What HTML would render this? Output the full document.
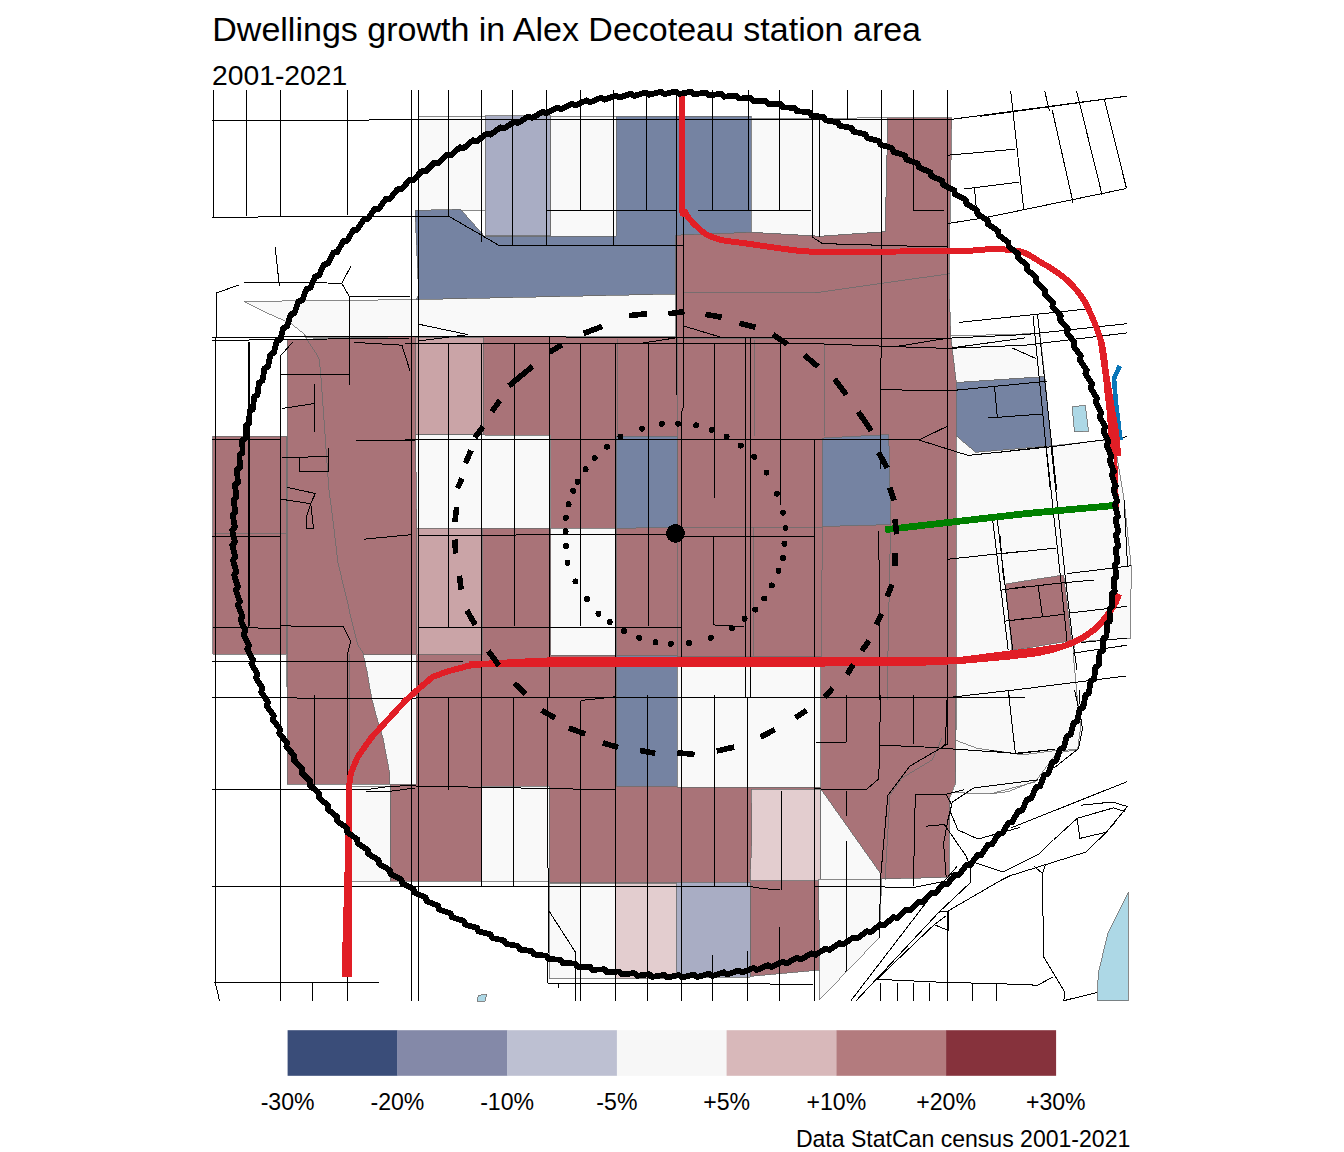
<!DOCTYPE html>
<html><head><meta charset="utf-8"><style>html,body{margin:0;padding:0;background:#fff;}svg{display:block;}</style></head>
<body><svg width="1344" height="1152" viewBox="0 0 1344 1152">
<rect width="1344" height="1152" fill="#fff"/>
<g shape-rendering="crispEdges"><g><polygon points="418.7,116.4 485.2,116 485.2,210.4 418.7,210.4" fill="#F9F9F9" stroke="#6b6b6b" stroke-width="0.8"/><polygon points="485.2,115.6 550.8,115.6 550.8,235.9 485.2,235.9" fill="#A9ADC4" stroke="#6b6b6b" stroke-width="0.8"/><polygon points="550.8,116 616.4,116 616.4,236.3 550.8,236" fill="#F9F9F9" stroke="#6b6b6b" stroke-width="0.8"/><polygon points="415,210.4 460.6,209.3 484.3,236 616.4,236.3 616.4,116 751.3,116 751.3,232.3 675.5,235.2 676,294 416,299.6 418.7,295" fill="#7583A2" stroke="#6b6b6b" stroke-width="0.8"/><polygon points="751.3,118.7 887.9,117.8 885.2,231.7 820,236.3 751.3,232.3" fill="#F9F9F9" stroke="#6b6b6b" stroke-width="0.8"/><polygon points="244.2,301.4 416,299.6 676,294 676,337 306.2,337.5 304.3,334.2 290.7,323.3 268.8,313.8" fill="#F9F9F9" stroke="#6b6b6b" stroke-width="0.8"/><polygon points="212.5,436.3 286,436.3 286,654 212.5,654" fill="#A97378" stroke="#6b6b6b" stroke-width="0.8"/><polygon points="287,339.7 415,336.3 676,337 675.5,235.2 751.3,232.3 820,236.3 885.2,231.7 887.9,117.8 951.7,117.8 949,285 950.8,334.2 956.3,381.6 956.3,705 955.4,782.5 949.9,797 949,877.3 880.6,879 880.6,873.6 820.5,788.6 820.5,970 750,976.4 750,882.5 549,883 549,786 481.6,786 481.6,881 390,881 390,784.3 287,784.3" fill="#A97378" stroke="#6b6b6b" stroke-width="0.8"/><polygon points="415.5,337 483.4,337 483.4,434.5 415.5,434.5" fill="#CAA4A7" stroke="#6b6b6b" stroke-width="0.8"/><polygon points="415.5,434.5 550.8,435.5 550.8,528.3 416.8,528.3" fill="#F9F9F9" stroke="#6b6b6b" stroke-width="0.8"/><polygon points="616.4,436.3 677.4,436.3 677.4,527.4 616.4,528.3" fill="#7583A2" stroke="#6b6b6b" stroke-width="0.8"/><polygon points="822.5,438 888.8,434.5 890.6,524.6 822.3,526.5" fill="#7583A2" stroke="#6b6b6b" stroke-width="0.8"/><polygon points="416.8,528.3 482.5,528.3 482.5,654 416.8,654" fill="#CAA4A7" stroke="#6b6b6b" stroke-width="0.8"/><polygon points="550.8,528.3 616,528.3 616,655 550.8,655" fill="#F9F9F9" stroke="#6b6b6b" stroke-width="0.8"/><polygon points="363.3,654.6 416,654.6 416,784.4 389.7,784.4 389.7,773.3 382.8,737.2 376,715 371.7,698.3 367.2,672.3" fill="#F9F9F9" stroke="#6b6b6b" stroke-width="0.8"/><polygon points="616.4,655.9 677.4,655.9 677.4,786.1 616.4,786.1" fill="#7583A2" stroke="#6b6b6b" stroke-width="0.8"/><polygon points="677.4,656.8 820.6,656.8 820.6,787 677.4,787" fill="#F9F9F9" stroke="#6b6b6b" stroke-width="0.8"/><polygon points="751.3,789 820.5,789 820.5,880.8 750,880.8 752,835" fill="#E3CDCF" stroke="#6b6b6b" stroke-width="0.8"/><polygon points="820.5,788.6 880.6,873.6 880.6,879 820.5,879" fill="#F9F9F9" stroke="#6b6b6b" stroke-width="0.8"/><polygon points="350.8,786 390,786 390,881 350.8,881" fill="#F9F9F9" stroke="#6b6b6b" stroke-width="0.8"/><polygon points="481.6,786 549,786 549,881.8 481.6,881.8" fill="#F9F9F9" stroke="#6b6b6b" stroke-width="0.8"/><polygon points="549,883 615.7,883.1 615.7,978.9 549,978.9" fill="#F9F9F9" stroke="#6b6b6b" stroke-width="0.8"/><polygon points="615.7,883.1 676.3,883.1 676.3,978.9 615.7,978.9" fill="#E3CDCF" stroke="#6b6b6b" stroke-width="0.8"/><polygon points="676.3,882.3 750,882.3 750,977.2 676.3,977.2" fill="#A9ADC4" stroke="#6b6b6b" stroke-width="0.8"/><polygon points="818.6,879 881.7,879 879.3,937.6 819.8,999.5" fill="#F9F9F9" stroke="#6b6b6b" stroke-width="0.8"/><polygon points="950.8,336 1040,333.5 1044.8,376.6 956.3,382.5" fill="#F9F9F9" stroke="#6b6b6b" stroke-width="0.8"/><polygon points="956.3,382.5 1044.8,376.6 1051.2,445.9 975.6,452.3 956.3,435.9" fill="#7583A2" stroke="#6b6b6b" stroke-width="0.8"/><polygon points="956.3,435.9 975.6,452.3 1051.2,445.9 1105.7,440 1116.6,454.6 1124,499.5 1131.2,566.4 1130.6,638 1075.4,642 1073,652 1077.5,700 1080.6,726.5 1077.5,749.6 1056.7,753 1035,782 990,794 951.5,792.5 955.4,782.5 956.3,705" fill="#F9F9F9" stroke="#6b6b6b" stroke-width="0.8"/><polygon points="1005.5,583.9 1063.6,575 1071.6,640.7 1012,650.4" fill="#A97378" stroke="#6b6b6b" stroke-width="0.8"/><polygon points="1072.2,406.7 1085.3,405.4 1088.6,431.3 1074.4,431.8" fill="#ADD8E6" stroke="#6b6b6b" stroke-width="0.8"/><polygon points="1128.1,892.4 1128.1,1000.7 1097.1,1000.7 1098.3,973.3 1107.9,932.9" fill="#ADD8E6" stroke="#6b6b6b" stroke-width="0.8"/><polygon points="478.6,995.2 486.8,994.4 485.1,1001 477,1001" fill="#ADD8E6" stroke="#6b6b6b" stroke-width="0.8"/><polyline points="304.3,334.2 307.1,339.7 318.9,357.9 320.7,372.5 329,490 332.6,517.3 338,563 349,608.5 358,645 363.6,654" fill="none" stroke="#6b6b6b" stroke-width="0.8"/><polyline points="214,533.4 286,533.4" fill="none" stroke="#6b6b6b" stroke-width="0.8"/><polyline points="286,436.3 286,687" fill="none" stroke="#6b6b6b" stroke-width="0.8"/><polyline points="349.4,654 349.4,784.4" fill="none" stroke="#6b6b6b" stroke-width="0.8"/><polyline points="683,292.3 820,292.3" fill="none" stroke="#6b6b6b" stroke-width="0.8"/><polyline points="815,292.8 949.9,273.7" fill="none" stroke="#6b6b6b" stroke-width="0.8"/><polyline points="617.3,339 617.3,436.3" fill="none" stroke="#6b6b6b" stroke-width="0.8"/><polyline points="754,340 754,436.3" fill="none" stroke="#6b6b6b" stroke-width="0.8"/><polyline points="683,338.5 949,338.5" fill="none" stroke="#6b6b6b" stroke-width="0.8"/><polyline points="677.4,338 677.4,655.9" fill="none" stroke="#6b6b6b" stroke-width="0.8"/><polyline points="753,527.4 753,655.9" fill="none" stroke="#6b6b6b" stroke-width="0.8"/><polyline points="680,527.4 822,527.4" fill="none" stroke="#6b6b6b" stroke-width="0.8"/><polyline points="824,343.3 824,436" fill="none" stroke="#6b6b6b" stroke-width="0.8"/><polyline points="890.6,524.6 887,700" fill="none" stroke="#6b6b6b" stroke-width="0.8"/><polyline points="822.3,526.5 821.4,656.8" fill="none" stroke="#6b6b6b" stroke-width="0.8"/><polyline points="955.4,695 955.4,782.5" fill="none" stroke="#6b6b6b" stroke-width="0.8"/><polyline points="955,740 977.5,748.5 1023,754.8 1054.6,750.6 1077.5,749.6" fill="none" stroke="#6b6b6b" stroke-width="0.8"/><polyline points="990,794 1008,791.6 1038.2,779.8" fill="none" stroke="#6b6b6b" stroke-width="0.8"/><polyline points="942,738 932,760 902,778 890,795 885,880" fill="none" stroke="#6b6b6b" stroke-width="0.8"/></g>
<g fill="none" stroke="#000" stroke-width="1"><polyline points="213.2,90 213.2,217"/><polyline points="246.6,90 246.6,216"/><polyline points="280.3,90 280.3,216"/><polyline points="347.5,90 347.5,215"/><polyline points="212.3,120.2 951.7,119.3 1127.2,96.1"/><polyline points="212.3,217.2 448.7,216.2 483.4,236.3 498.9,245.4 683,245.4"/><polyline points="216,293.2 238.7,285"/><polyline points="216,293.2 216,338"/><polyline points="244,282.2 288,282.2 341.7,283.3 350.8,266.4"/><polyline points="341.7,283.3 349,296 349,385.3"/><polyline points="275.2,247.2 279.4,286.4"/><polyline points="349,296 410,296"/><polyline points="411.5,90 411.5,1001"/><polyline points="418.1,90 418.1,1001"/><polyline points="448.4,90 448.4,216.2"/><polyline points="481.6,90 481.6,241.8"/><polyline points="512.5,90 512.5,245.4"/><polyline points="546.5,90 546.5,245"/><polyline points="580.5,90 580.5,211"/><polyline points="613.7,90 613.7,245"/><polyline points="547.2,210.8 675.6,210.8"/><polyline points="697.5,210.8 811.4,210.8"/><polyline points="646.5,90 646.5,211"/><polyline points="676.5,90 676.5,395"/><polyline points="681,415 681,1001"/><polyline points="683,209 683,408 681,415"/><polyline points="712.6,90 712.6,211"/><polyline points="748.5,90 748.5,211"/><polyline points="779.5,90 779.5,211"/><polyline points="812.3,90 812.3,237 822.3,243.6 917,246.3 948,246.3"/><polyline points="819.6,118 819.6,237"/><polyline points="847.8,90 847.8,119.6"/><polyline points="881.5,90 881.5,357 880.3,360 880.3,469"/><polyline points="913.4,90 913.4,210.4 943.5,210.4"/><polyline points="947.5,90 947.5,744.2 942.6,747"/><polyline points="980,116.25 1127.2,96.1"/><polyline points="948,223.5 985.6,217.6 1126.5,188.5"/><polyline points="1010.6,90.6 1023.75,209.3"/><polyline points="1044.6,90.6 1049.4,110.7"/><polyline points="1052.2,110 1073,202.4"/><polyline points="1076.5,90.6 1102.2,195.4"/><polyline points="1104.3,98.9 1126.5,188.5"/><polyline points="948,155.2 1015.4,149.2"/><polyline points="964.5,188.9 1018.9,182.2"/><polyline points="974.5,188 977.2,219"/><polyline points="249.3,342.4 249.3,626"/><polyline points="280.4,356 280.4,1001"/><polyline points="280.4,356 292.5,342.4"/><polyline points="212.3,337.5 415,336"/><polyline points="212.3,340.5 287,339.5 410,338"/><polyline points="354.5,342.4 401.9,345.2 410,370.7"/><polyline points="279.7,374.3 349,374.3"/><polyline points="314.4,384.3 314.4,431.7"/><polyline points="281.6,408.6 314.4,403.5"/><polyline points="356.3,440 415,440"/><polyline points="212,439 280.6,439"/><polyline points="299.8,457.3 328,456.3 328,471.3 299.8,471.3 299.8,457.3"/><polyline points="282,457.6 299.8,457.3"/><polyline points="328,448 328,456.3"/><polyline points="287,487.3 316.2,493.7"/><polyline points="418.7,324.2 467.9,334.6 418.7,341"/><polyline points="405,343 815,343.6"/><polyline points="448.4,343 448.4,627"/><polyline points="514.8,343 514.8,626"/><polyline points="549,337 549,697"/><polyline points="580.4,343 580.4,626"/><polyline points="405,439.6 815,439"/><polyline points="615.5,343 615.5,1001"/><polyline points="648.3,343 648.3,626"/><polyline points="714.3,343.3 714.3,498"/><polyline points="745.8,338 745.8,697"/><polyline points="747.3,697 747.3,886.4"/><polyline points="747.5,951 747.5,1001"/><polyline points="750.4,338 750.4,697"/><polyline points="780.4,343 780.4,505"/><polyline points="814.5,439 814.5,1001"/><polyline points="683,337.9 947.5,338.2 1025,334.6 1127,323.7"/><polyline points="642.8,343 675.6,337.9"/><polyline points="683.8,326 723,337.9"/><polyline points="815,343.7 857,345.2 906,347 947.5,348.4 1025,345.2 1127,332.9"/><polyline points="893.4,347 947.5,338.2"/><polyline points="951.7,347.9 1025,337.9"/><polyline points="1011.9,347.9 1035.7,358.4"/><polyline points="959,322.4 1085,309.2"/><polyline points="880.3,389.3 913.4,390.4 953.5,390.4 1039.4,382 1046.7,381.2"/><polyline points="994.5,386.2 997.4,418.5"/><polyline points="988.2,418 1042.1,414"/><polyline points="815,439 913.4,439 918.9,440 947.2,426.3"/><polyline points="918.9,440 968.1,455.4 1051.2,446.8 1126.9,436.8"/><polyline points="1033,315.5 1050.3,490"/><polyline points="1037.5,314.6 1056.7,490"/><polyline points="405,336.2 683,337.6"/><polyline points="248.4,342.4 248.4,626.7"/><polyline points="212.3,536.5 280.6,536.5"/><polyline points="212.3,627 280.6,628.5"/><polyline points="280.6,625.8 343.5,627 350.8,641.3 347.4,654 347.4,790"/><polyline points="212.3,661.4 463.3,661.4"/><polyline points="212.3,697.8 415,698.3 420,697.2 547.2,697.2"/><polyline points="363.6,539.2 411,534.7"/><polyline points="280.6,499.1 310.7,503.7 315.3,493.6 299.8,490"/><polyline points="310.7,503.7 306.2,517.3 306.2,528.3 313.5,528.3 310.7,503.7"/><polyline points="418.1,535.2 666.5,534.7"/><polyline points="418.1,627 681,627"/><polyline points="713.9,536.5 713.9,624.9 744,627"/><polyline points="683,536.5 814.2,536.5"/><polyline points="547.2,697.8 1025,697.8"/><polyline points="878.8,531 880,700"/><polyline points="947.2,559.3 1025,551"/><polyline points="992.7,520 1008.2,650.4"/><polyline points="997.3,520 1012.8,650.4"/><polyline points="1000,590.3 1025,586.6"/><polyline points="1004.6,621.2 1025,618.5"/><polyline points="946.2,697.8 1025,688.7"/><polyline points="1008.2,690.5 1010,700"/><polyline points="1000,452.2 1046.2,446.7"/><polyline points="1046.2,446 1060.8,580 1067.1,641.6"/><polyline points="1051,446 1065.6,580 1072.5,638.9 1077,670"/><polyline points="1002.4,553.6 1055.9,548.1"/><polyline points="1000,536 1003.6,580"/><polyline points="1066.8,573.7 1130.6,565.8"/><polyline points="1124,499.5 1127.6,566.4"/><polyline points="1010,588.9 1060,583.1 1093.9,580"/><polyline points="1010,620.6 1063.6,614.4"/><polyline points="1038.1,585.8 1042.6,617"/><polyline points="1069.8,613 1127,606.3"/><polyline points="1081.4,642.5 1127,638"/><polyline points="1072.5,653.2 1127,645.2"/><polyline points="1025,688.7 1126,676"/><polyline points="215.5,338 215.5,984 219.6,1001"/><polyline points="314,695 314,786"/><polyline points="212.3,789.8 365.4,789.8 388.3,786.5 405,785.8 615,789.8"/><polyline points="365.4,791 388.3,791.5 415,788"/><polyline points="212.3,886.6 749,886.4 763.9,888.8 780.2,889.6"/><polyline points="214,982.7 378.6,982.7"/><polyline points="312.6,983 312.6,1001"/><polyline points="347.6,977 347.6,1001"/><polyline points="448,697.6 448,790"/><polyline points="481.6,343 481.6,886.4"/><polyline points="513.5,697.2 513.5,886.4"/><polyline points="547.2,697.2 548.1,886.4 549,911 547.3,983"/><polyline points="580.9,700.5 615,696.8"/><polyline points="580.9,700.5 580.9,1001"/><polyline points="549,911 575.2,951.8 576,1001"/><polyline points="547.3,983 573.5,983.5 696.8,983 813,984.6"/><polyline points="558,983 558,988"/><polyline points="647.4,695 647.4,1001"/><polyline points="714.8,695 714.8,886.4"/><polyline points="712.8,955 712.8,1001"/><polyline points="781.3,790.7 781.3,889.6"/><polyline points="779.4,927.3 779.4,1001"/><polyline points="816,742.4 846,742.4"/><polyline points="846,695 846,742.4"/><polyline points="880.6,695 878.8,778.8 866,789.8"/><polyline points="815,788.9 866,789.8"/><polyline points="913.4,695 913.4,744.2"/><polyline points="947.2,695 945.4,744.2 942.6,747"/><polyline points="879.7,745.1 924.4,747 1015.5,753.3 1055.1,749.2"/><polyline points="942.6,747 909.8,766.1 887.9,795.3 880.6,877.3 879.3,937.6"/><polyline points="915.3,794.3 946.2,794.3 963.6,789.8"/><polyline points="915.3,794.3 913.4,886.4"/><polyline points="846.9,790.7 846.9,816.2"/><polyline points="846.9,840.8 846,972.1"/><polyline points="815,886.4 864.2,886.8 914.3,887.3 942.6,881.8"/><polyline points="926.2,826.2 945.3,824.4"/><polyline points="946.2,794.3 951.7,804.8 948,819.5 943.6,843.7 946.2,877.3"/><polyline points="951.7,802.5 973.6,788 1038.2,779.8"/><polyline points="950,811 958,830 978,839 998,833.5 1020,827.4"/><polyline points="944,824 966,856 970.2,866.5 970.2,882.8 939,912.1 856.3,1000.6"/><polyline points="851,1000.6 929.8,897.8 957,866.5"/><polyline points="1008.2,690 1015.4,753.8"/><polyline points="990,750.5 1016,753.8 1055.1,749.2"/><polyline points="1074.6,690 1081.1,720 1082.4,729 1078.5,748.6 1053.8,768.1"/><polyline points="1079,690 1081.1,720"/><polyline points="1010.8,828 1126.7,781.8"/><polyline points="1053.8,839.7 1077.2,818.3 1113.7,807.8 1125.4,811.7"/><polyline points="1077.2,818.3 1079.8,838.4 1104.6,832.6"/><polyline points="1081.1,805.2 1112.4,802 1127.4,806.5 1107.2,831.3 1098.7,840"/><polyline points="939,912.1 948,911 1000,880.8 1010.2,875.7 1086.4,851.9 1098.3,840 1115,823"/><polyline points="877.8,978.5 933.75,925.1 946,916"/><polyline points="974.5,862.6 1003.1,872.1 1038.8,854.3 1053.1,840"/><polyline points="1034,866.2 1042.4,873.3 1046,863.8"/><polyline points="1042.4,873.3 1043.6,956.7 1065,992.4 1063.8,1000.7"/><polyline points="948.8,911.4 948.3,930.5 934,924.5"/><polyline points="947.1,911.4 947.1,1000.7"/><polyline points="876.9,979.3 944.8,982.4 996,983.6 1037.6,985.2 1053.1,976.9"/><polyline points="1063.8,1000.7 1097.1,992.4"/><polyline points="880.5,982.9 880.5,1000.7"/><polyline points="897.1,982.9 897.1,1000.7"/><polyline points="913.1,982.9 913.1,1000.7"/><polyline points="929.3,982.9 929.3,1000.7"/><polyline points="972.1,982.9 972.1,1000.7"/><polyline points="996,982.9 996,1000.7"/></g>
<g><path d="M1119.7,366 L1114,378.5 L1115.8,401.7 L1119.6,432.9 L1120.6,440" fill="none" stroke="#0a76b8" stroke-width="4.6"/><path d="M1117,440 L1116.2,470" fill="none" stroke="#0a76b8" stroke-width="1.2"/><path d="M682,94.5 C682.0,112.6 681.5,183.4 682,203 C682.5,222.6 683.7,209.2 685,212 C686.3,214.8 687.9,217.0 690,219.5 C692.1,222.0 694.7,224.7 697.5,227.2 C700.3,229.7 702.6,232.4 706.6,234.5 C710.6,236.6 714.5,238.5 721.2,240 C727.9,241.5 734.9,241.8 746.7,243.5 C758.6,245.2 780.1,248.6 792.3,250 C804.5,251.4 802.0,251.6 820,251.8 C838.0,252.1 876.5,251.6 900,251.5 C923.5,251.4 946.6,251.5 960.8,251.2 C975.0,250.9 978.5,249.8 985,249.5 C991.5,249.2 993.8,248.8 1000,249.2 C1006.2,249.6 1015.6,249.9 1022.5,252.1 C1029.4,254.3 1035.3,259.0 1041.25,262.5 C1047.2,266.0 1052.7,269.1 1057.9,272.9 C1063.1,276.7 1068.0,280.5 1072.5,285.4 C1077.0,290.3 1081.2,295.5 1085,302.1 C1088.8,308.7 1092.7,318.4 1095.4,325 C1098.1,331.6 1099.8,336.2 1101.3,342 C1102.8,347.8 1103.5,352.1 1104.5,360 C1105.5,367.9 1106.4,381.1 1107.2,389.4 C1108.0,397.7 1108.8,402.4 1109.5,410 C1110.2,417.6 1111.0,427.3 1111.5,435 C1112.0,442.7 1112.3,452.5 1112.5,456" fill="none" stroke="#E11E26" stroke-width="6" stroke-linejoin="round"/><path d="M1101.3,342 C1102.1,347.5 1104.4,364.5 1106,375 C1107.6,385.5 1109.5,395.8 1111,405 C1112.5,414.2 1114.1,421.5 1115.3,430 C1116.5,438.5 1117.5,451.7 1118,456" fill="none" stroke="#E11E26" stroke-width="6.6"/><path d="M1115.6,455 L1117.5,508" fill="none" stroke="#E11E26" stroke-width="3"/><path d="M469,664.5 L480,664 L533,661.1 L556,660.1 L785,660.1 L919,660.5 L960,659.9 L1010,653.5 L1036.8,650.4 L1063.6,646.4 L1081.4,638.4 L1094.8,629.4 L1108.2,615.1 L1116,602 L1119,594" fill="none" stroke="#E11E26" stroke-width="6" stroke-linejoin="round"/><path d="M469,664.5 L480,663.7 L800,663.7 L919,662.8 L960,661 L1010,656.5 L1036.8,653.3 L1054.6,649.3 L1072.5,643.1 L1085.9,635.9 L1099.3,625.2 L1108,614 L1115,602 L1118.5,594" fill="none" stroke="#E11E26" stroke-width="6" stroke-linejoin="round"/><path d="M490,663.6 L468.9,665.7 L448,671.3 L432.8,676.8 L418.9,688.6 L405,701.1 L388.3,719.2 L371.7,737.2 L357.8,756.7 L350.8,773.3 L349.1,786" fill="none" stroke="#E11E26" stroke-width="6" stroke-linejoin="round"/><polygon points="346.4,784 346.4,834.4 345.2,834.4 345.2,872 344,872 344,907 342.9,907 342.9,942 342,942 342,976.7 351.9,976.7 351.9,784" fill="#E11E26"/><path d="M885.2,529.7 L1025,513.7 L1113,505.6" fill="none" stroke="#008000" stroke-width="6.8"/></g>
<g><path d="M1115.8,534.5 L1118.2,546.5 L1115.5,549.5 L1117.6,561.6 L1114.8,564.4 L1116.4,576.6 L1113.5,579.3 L1114.7,591.5 L1111.7,594.2 L1112.5,606.4 L1109.5,608.9 L1109.8,621.2 L1106.7,623.6 L1106.6,635.9 L1103.4,638.2 L1102.9,650.5 L1099.6,652.7 L1098.8,665.0 L1095.4,667.1 L1094.1,679.3 L1090.6,681.2 L1088.9,693.4 L1085.4,695.3 L1083.3,707.4 L1079.7,709.1 L1077.2,721.1 L1073.6,722.7 L1070.6,734.7 L1066.9,736.1 L1063.6,748.0 L1059.9,749.3 L1056.1,761.0 L1052.3,762.3 L1048.2,773.8 L1044.4,774.9 L1039.9,786.4 L1036.0,787.3 L1031.1,798.6 L1027.2,799.4 L1021.9,810.5 L1018.0,811.2 L1012.4,822.1 L1008.4,822.7 L1002.4,833.4 L998.5,833.9 L992.1,844.3 L988.1,844.7 L981.4,854.9 L977.4,855.1 L970.3,865.1 L966.3,865.2 L958.9,875.0 L954.9,874.9 L947.2,884.4 L943.2,884.2 L935.1,893.4 L931.2,893.1 L922.8,902.0 L918.9,901.5 L910.2,910.2 L906.3,909.6 L897.3,918.0 L893.4,917.2 L884.1,925.3 L880.3,924.4 L870.7,932.2 L866.9,931.1 L857.1,938.6 L853.3,937.4 L843.3,944.5 L839.5,943.2 L829.3,950.0 L825.6,948.6 L815.1,955.0 L811.4,953.4 L800.7,959.5 L797.1,957.8 L786.2,963.5 L782.7,961.7 L771.6,967.0 L768.1,965.1 L756.8,970.0 L753.4,968.0 L742.0,972.5 L738.7,970.4 L727.1,974.6 L723.8,972.3 L712.1,976.1 L708.9,973.7 L697.1,977.1 L694.0,974.6 L682.1,977.5 L679.0,975.0 L667.0,977.5 L664.1,974.9 L652.0,977.0 L649.1,974.2 L637.0,975.9 L634.2,973.1 L622.0,974.4 L619.3,971.4 L607.1,972.3 L604.5,969.3 L592.3,969.8 L589.8,966.6 L577.5,966.7 L575.2,963.5 L562.9,963.1 L560.7,959.8 L548.4,959.0 L546.3,955.7 L534.1,954.5 L532.1,951.1 L519.9,949.5 L518.0,946.0 L505.9,943.9 L504.1,940.4 L492.1,938.0 L490.5,934.3 L478.5,931.5 L477.0,927.8 L465.1,924.6 L463.7,920.9 L452.0,917.2 L450.7,913.5 L439.1,909.4 L438.0,905.6 L426.6,901.2 L425.5,897.4 L414.2,892.5 L413.4,888.7 L402.2,883.5 L401.5,879.6 L390.5,874.0 L389.9,870.1 L379.2,864.1 L378.7,860.2 L368.2,853.9 L367.8,849.9 L357.5,843.3 L357.3,839.3 L347.2,832.3 L347.1,828.3 L337.3,821.0 L337.3,817.0 L327.7,809.3 L327.9,805.4 L318.6,797.4 L318.9,793.4 L309.9,785.1 L310.3,781.2 L301.6,772.6 L302.2,768.6 L293.7,759.7 L294.4,755.8 L286.3,746.6 L287.1,742.8 L279.3,733.3 L280.3,729.5 L272.8,719.8 L273.9,715.9 L266.7,706.0 L268.0,702.2 L261.1,692.0 L262.5,688.3 L256.0,677.8 L257.5,674.2 L251.4,663.5 L253.0,659.9 L247.3,649.1 L249.0,645.5 L243.6,634.5 L245.5,631.0 L240.5,619.7 L242.5,616.3 L237.8,604.9 L239.9,601.6 L235.7,590.0 L237.9,586.7 L234.1,575.1 L236.4,571.9 L232.9,560.1 L235.4,556.9 L232.3,545.0 L234.9,542.0 L232.2,530.0 L234.9,527.0 L232.6,514.9 L235.4,512.1 L233.6,499.9 L236.4,497.1 L235.0,484.9 L237.9,482.3 L236.9,470.0 L239.9,467.4 L239.4,455.2 L242.5,452.7 L242.3,440.4 L245.5,438.0 L245.7,425.8 L249.0,423.5 L249.7,411.2 L253.0,409.1 L254.1,396.9 L257.5,394.8 L259.0,382.6 L262.5,380.7 L264.4,368.6 L268.0,366.8 L270.3,354.7 L273.9,353.1 L276.6,341.1 L280.3,339.5 L283.4,327.7 L287.1,326.2 L290.7,314.5 L294.4,313.2 L298.4,301.5 L302.2,300.4 L306.5,288.9 L310.3,287.8 L315.1,276.5 L318.9,275.6 L324.0,264.4 L327.9,263.6 L333.4,252.6 L337.3,252.0 L343.2,241.2 L347.1,240.7 L353.3,230.1 L357.3,229.7 L363.8,219.3 L367.8,219.1 L374.7,208.9 L378.7,208.8 L386.0,198.9 L389.9,198.9 L397.5,189.3 L401.5,189.4 L409.4,180.0 L413.4,180.3 L421.6,171.2 L425.5,171.6 L434.1,162.8 L438.0,163.4 L446.8,154.8 L450.7,155.5 L459.9,147.3 L463.7,148.1 L473.1,140.2 L477.0,141.2 L486.6,133.6 L490.5,134.7 L500.4,127.4 L504.1,128.6 L514.3,121.7 L518.0,123.0 L528.4,116.5 L532.1,117.9 L542.7,111.7 L546.3,113.3 L557.1,107.5 L560.7,109.2 L571.7,103.7 L575.2,105.5 L586.4,100.4 L589.8,102.4 L601.2,97.6 L604.5,99.7 L616.0,95.4 L619.3,97.6 L631.0,93.6 L634.2,95.9 L646.0,92.4 L649.1,94.8 L661.0,91.6 L664.1,94.1 L676.1,91.4 L679.0,94.0 L691.1,91.7 L694.0,94.4 L706.1,92.5 L708.9,95.3 L721.1,93.8 L723.8,96.7 L736.1,95.6 L738.7,98.6 L750.9,97.9 L753.4,101.0 L765.7,100.7 L768.1,103.9 L780.4,104.0 L782.7,107.3 L794.9,107.9 L797.1,111.2 L809.4,112.2 L811.4,115.6 L823.6,117.0 L825.6,120.4 L837.7,122.2 L839.5,125.8 L851.6,128.0 L853.3,131.6 L865.3,134.2 L866.9,137.9 L878.8,140.9 L880.3,144.6 L892.1,148.0 L893.4,151.8 L905.1,155.6 L906.3,159.4 L917.8,163.6 L918.9,167.5 L930.2,172.1 L931.2,175.9 L942.4,181.0 L943.2,184.8 L954.2,190.2 L954.9,194.1 L965.8,199.9 L966.3,203.8 L977.0,210.0 L977.4,213.9 L987.8,220.4 L988.1,224.3 L998.3,231.2 L998.5,235.1 L1008.4,242.3 L1008.4,246.3 L1018.1,253.8 L1018.0,257.8 L1027.5,265.6 L1027.2,269.6 L1036.4,277.7 L1036.0,281.7 L1044.9,290.1 L1044.4,294.1 L1053.0,302.8 L1052.3,306.7 L1060.7,315.8 L1059.9,319.7 L1067.9,329.0 L1066.9,332.9 L1074.6,342.4 L1073.6,346.3 L1080.9,356.1 L1079.7,359.9 L1086.7,370.0 L1085.4,373.7 L1092.1,384.1 L1090.6,387.8 L1096.9,398.3 L1095.4,401.9 L1101.3,412.7 L1099.6,416.3 L1105.2,427.2 L1103.4,430.8 L1108.6,441.9 L1106.7,445.4 L1111.5,456.7 L1109.5,460.1 L1113.9,471.5 L1111.7,474.8 L1115.8,486.4 L1113.5,489.7 L1117.2,501.4 L1114.8,504.6 L1118.0,516.4 L1115.5,519.5 L1118.4,531.5Z" fill="none" stroke="#000" stroke-width="5.8" stroke-linejoin="round"/><path d="M668.3,313.8 L684.5,311.5 M628.8,315.6 L647.3,313.7 M583.6,333.4 L602.2,326.5 M549.6,352.2 L561.7,344.8 M508.9,385.9 L532.5,366.4 M491.7,411.6 L500.0,400.5 M474.8,437.6 L483.1,426.5 M465.4,463.3 L471.0,450.4 M457.5,488.2 L462.0,478.6 M454.9,521.9 L456.7,506.9 M454.8,539.5 L455.7,553.5 M705.5,314.3 L721.7,317.3 M739.4,323.3 L755.5,327.2 M773.0,334.7 L787.3,344.3 M804.4,355.2 L818.0,366.7 M834.7,379.1 L846.4,394.7 M858.3,411.8 L871.3,430.8 M878.5,452.5 L887.2,468.0 M889.6,487.6 L894.2,500.6 M894.9,519.3 L896.8,534.3 M894.7,553.1 L894.7,565.9 M891.9,584.6 L887.3,596.5 M881.6,613.8 L876.2,624.8 M869.0,640.8 L861.8,650.8 M853.3,664.6 L847.0,674.4 M832.8,688.1 L824.6,697.2 M806.6,710.4 L795.5,717.8 M774.9,729.5 L760.6,737.1 M734.1,747.1 L716.8,751.0 M677.3,752.7 L694.6,754.5 M640.1,750.5 L655.2,753.3 M602.8,742.8 L618.0,747.5 M568.9,728.1 L585.3,733.9 M541.7,710.3 L554.9,717.9 M514.4,683.5 L525.8,693.9 M488.3,651.0 L498.9,665.5 M466.8,610.4 L475.3,624.8 M459.4,575.7 L461.2,589.6" fill="none" stroke="#000" stroke-width="5.6"/><circle cx="661.8" cy="423.9" r="3" fill="#000"/><circle cx="678.1" cy="423.7" r="3" fill="#000"/><circle cx="696.1" cy="425.3" r="3" fill="#000"/><circle cx="711.9" cy="429.8" r="3" fill="#000"/><circle cx="726.6" cy="436.5" r="3" fill="#000"/><circle cx="740.8" cy="445.6" r="3" fill="#000"/><circle cx="754.3" cy="456.8" r="3" fill="#000"/><circle cx="766.5" cy="472.6" r="3" fill="#000"/><circle cx="776.9" cy="493.6" r="3" fill="#000"/><circle cx="783" cy="512.6" r="3" fill="#000"/><circle cx="785.5" cy="528.1" r="3" fill="#000"/><circle cx="784.4" cy="543.7" r="3" fill="#000"/><circle cx="783" cy="557.9" r="3" fill="#000"/><circle cx="778.5" cy="570.8" r="3" fill="#000"/><circle cx="771.7" cy="585.4" r="3" fill="#000"/><circle cx="764.3" cy="598.5" r="3" fill="#000"/><circle cx="755.2" cy="609.6" r="3" fill="#000"/><circle cx="744.6" cy="618.8" r="3" fill="#000"/><circle cx="731.8" cy="628.3" r="3" fill="#000"/><circle cx="710.8" cy="637.8" r="3" fill="#000"/><circle cx="689.2" cy="643" r="3" fill="#000"/><circle cx="670.8" cy="643.7" r="3" fill="#000"/><circle cx="655.5" cy="642.3" r="3" fill="#000"/><circle cx="639.1" cy="637.8" r="3" fill="#000"/><circle cx="623.9" cy="631" r="3" fill="#000"/><circle cx="609.7" cy="622" r="3" fill="#000"/><circle cx="598.4" cy="613.7" r="3" fill="#000"/><circle cx="587.1" cy="599" r="3" fill="#000"/><circle cx="575.4" cy="581.4" r="3" fill="#000"/><circle cx="567.5" cy="562.9" r="3" fill="#000"/><circle cx="565.9" cy="546" r="3" fill="#000"/><circle cx="565.6" cy="531.3" r="3" fill="#000"/><circle cx="565.9" cy="517.8" r="3" fill="#000"/><circle cx="568.6" cy="504.2" r="3" fill="#000"/><circle cx="573.2" cy="490.7" r="3" fill="#000"/><circle cx="577.7" cy="481.7" r="3" fill="#000"/><circle cx="585.6" cy="469.3" r="3" fill="#000"/><circle cx="594.6" cy="458" r="3" fill="#000"/><circle cx="607" cy="446.7" r="3" fill="#000"/><circle cx="620.5" cy="436.5" r="3" fill="#000"/><circle cx="642" cy="428.6" r="3" fill="#000"/><circle cx="675.5" cy="533.4" r="9.4" fill="#000"/></g>
</g><g><text x="212.3" y="40.8" font-size="34" font-family="Liberation Sans, Arial, sans-serif">Dwellings growth in Alex Decoteau station area</text><text x="212" y="84.8" font-size="28.3" font-family="Liberation Sans, Arial, sans-serif">2001-2021</text><rect x="287.6" y="1030.2" width="110.0" height="45.6" fill="#3A4D79"/><rect x="397.4" y="1030.2" width="110.0" height="45.6" fill="#8489A8"/><rect x="507.1" y="1030.2" width="110.0" height="45.6" fill="#BDC0D2"/><rect x="616.9" y="1030.2" width="110.0" height="45.6" fill="#F7F7F7"/><rect x="726.6" y="1030.2" width="110.0" height="45.6" fill="#D8B8BA"/><rect x="836.4" y="1030.2" width="110.0" height="45.6" fill="#B37B7E"/><rect x="946.1" y="1030.2" width="110.0" height="45.6" fill="#86323C"/><text x="287.6" y="1109.8" font-size="23.1" text-anchor="middle" font-family="Liberation Sans, Arial, sans-serif">-30%</text><text x="397.4" y="1109.8" font-size="23.1" text-anchor="middle" font-family="Liberation Sans, Arial, sans-serif">-20%</text><text x="507.1" y="1109.8" font-size="23.1" text-anchor="middle" font-family="Liberation Sans, Arial, sans-serif">-10%</text><text x="616.9" y="1109.8" font-size="23.1" text-anchor="middle" font-family="Liberation Sans, Arial, sans-serif">-5%</text><text x="726.6" y="1109.8" font-size="23.1" text-anchor="middle" font-family="Liberation Sans, Arial, sans-serif">+5%</text><text x="836.4" y="1109.8" font-size="23.1" text-anchor="middle" font-family="Liberation Sans, Arial, sans-serif">+10%</text><text x="946.1" y="1109.8" font-size="23.1" text-anchor="middle" font-family="Liberation Sans, Arial, sans-serif">+20%</text><text x="1055.8" y="1109.8" font-size="23.1" text-anchor="middle" font-family="Liberation Sans, Arial, sans-serif">+30%</text><text x="1130.3" y="1146.6" font-size="23.05" text-anchor="end" font-family="Liberation Sans, Arial, sans-serif">Data StatCan census 2001-2021</text></g>
</svg></body></html>
